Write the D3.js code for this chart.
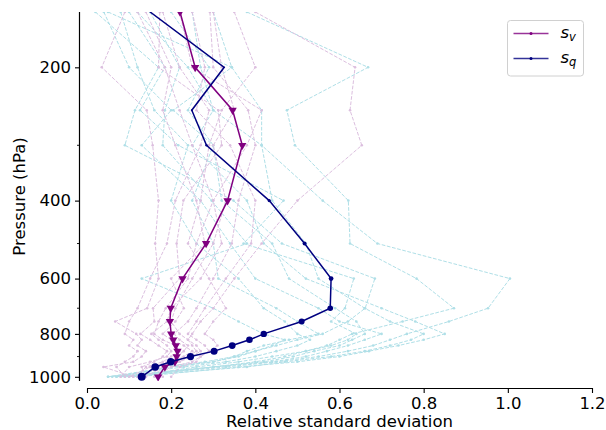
<!DOCTYPE html>
<html>
<head>
<meta charset="utf-8">
<script src="https://cdn.jsdelivr.net/npm/d3@7"></script>
<style>
  html, body { margin: 0; padding: 0; background: #fff; }
  svg { display: block; font-family: "DejaVu Sans", sans-serif; }
</style>
</head>
<body>
<svg id="chart" width="606" height="430"></svg>
<script>
// ---- data ----
const levels = [150, 200, 250, 300, 400, 500, 600, 700, 750, 800, 825, 850, 875, 900, 925, 950, 1000];
const sv = [0.221, 0.257, 0.346, 0.369, 0.334, 0.283, 0.227, 0.199, 0.197, 0.200, 0.205, 0.211, 0.215, 0.213, 0.209, 0.185, 0.169];
const sq = [0.150, 0.326, 0.249, 0.284, 0.433, 0.517, 0.580, 0.578, 0.510, 0.420, 0.386, 0.345, 0.302, 0.246, 0.199, 0.162, 0.130];

const sqMembers = [
  [0.38, 0.668, 0.475, 0.494, 0.621, 0.625, 0.783, 0.872, 0.75, 0.63, 0.60, 0.57, 0.52, 0.47, 0.40, 0.30, 0.06],
  [0.30, 0.344, 0.415, 0.415, 0.56, 0.69, 1.005, 0.953, 0.86, 0.76, 0.72, 0.68, 0.62, 0.55, 0.45, 0.33, 0.08],
  [0.02, 0.17, 0.114, 0.09, 0.348, 0.463, 0.684, 0.661, 0.62, 0.56, 0.50, 0.45, 0.40, 0.36, 0.30, 0.20, 0.05],
  [0.10, 0.185, 0.126, 0.217, 0.467, 0.372, 0.634, 0.613, 0.58, 0.64, 0.62, 0.58, 0.52, 0.44, 0.36, 0.26, 0.10],
  [0.15, 0.22, 0.185, 0.18, 0.296, 0.38, 0.13, 0.30, 0.36, 0.42, 0.47, 0.44, 0.40, 0.35, 0.28, 0.17, 0.12],
  [0.05, 0.344, 0.205, 0.30, 0.25, 0.30, 0.312, 0.45, 0.50, 0.55, 0.48, 0.42, 0.38, 0.35, 0.30, 0.20, 0.07],
  [0.25, 0.27, 0.30, 0.415, 0.44, 0.52, 0.55, 0.66, 0.72, 0.80, 0.77, 0.72, 0.66, 0.58, 0.47, 0.38, 0.09],
  [0.08, 0.12, 0.16, 0.24, 0.20, 0.26, 0.36, 0.42, 0.47, 0.50, 0.53, 0.50, 0.45, 0.40, 0.33, 0.23, 0.05],
  [0.20, 0.29, 0.24, 0.30, 0.32, 0.44, 0.48, 0.59, 0.64, 0.66, 0.63, 0.60, 0.54, 0.49, 0.42, 0.30, 0.11],
  [0.12, 0.24, 0.30, 0.25, 0.38, 0.42, 0.52, 0.70, 0.78, 0.85, 0.80, 0.74, 0.67, 0.60, 0.50, 0.36, 0.12],
  [0.04, 0.10, 0.20, 0.13, 0.27, 0.34, 0.40, 0.55, 0.60, 0.70, 0.66, 0.62, 0.57, 0.52, 0.44, 0.30, 0.07]
];
const svMembers = [
  [0.40, 0.637, 0.625, 0.653, 0.50, 0.415, 0.35, 0.30, 0.27, 0.25, 0.24, 0.25, 0.26, 0.24, 0.22, 0.18, 0.14],
  [0.09, 0.035, 0.142, 0.156, 0.17, 0.162, 0.17, 0.143, 0.067, 0.117, 0.13, 0.12, 0.14, 0.13, 0.11, 0.039, 0.11],
  [0.173, 0.17, 0.312, 0.32, 0.229, 0.213, 0.22, 0.157, 0.16, 0.127, 0.15, 0.17, 0.19, 0.18, 0.16, 0.13, 0.14],
  [0.292, 0.30, 0.383, 0.40, 0.36, 0.344, 0.30, 0.26, 0.24, 0.207, 0.22, 0.24, 0.23, 0.213, 0.20, 0.16, 0.18],
  [0.22, 0.25, 0.415, 0.38, 0.30, 0.32, 0.27, 0.20, 0.19, 0.153, 0.17, 0.19, 0.20, 0.19, 0.15, 0.10, 0.08],
  [0.12, 0.185, 0.22, 0.25, 0.30, 0.26, 0.24, 0.187, 0.17, 0.16, 0.18, 0.21, 0.22, 0.20, 0.18, 0.14, 0.12],
  [0.25, 0.28, 0.26, 0.34, 0.40, 0.39, 0.33, 0.28, 0.26, 0.24, 0.26, 0.28, 0.29, 0.27, 0.25, 0.20, 0.16],
  [0.14, 0.20, 0.18, 0.21, 0.26, 0.28, 0.20, 0.23, 0.21, 0.18, 0.20, 0.23, 0.25, 0.23, 0.19, 0.15, 0.10],
  [0.30, 0.32, 0.35, 0.30, 0.33, 0.30, 0.25, 0.21, 0.20, 0.22, 0.24, 0.26, 0.27, 0.25, 0.22, 0.17, 0.13],
  [0.18, 0.22, 0.29, 0.27, 0.21, 0.19, 0.15, 0.12, 0.10, 0.09, 0.11, 0.10, 0.12, 0.11, 0.09, 0.07, 0.09],
  [0.35, 0.40, 0.32, 0.29, 0.27, 0.24, 0.29, 0.33, 0.30, 0.28, 0.30, 0.31, 0.29, 0.27, 0.26, 0.22, 0.20]
];

const xTicks = [0.0, 0.2, 0.4, 0.6, 0.8, 1.0, 1.2];
const yTicks = [200, 400, 600, 800, 1000];
const yMinorTicks = [300, 500, 700, 900];
const seriesNames = ["v", "q"];

// ---- layout ----
const plot = { left: 87, right: 592, top: 12, bottom: 381 };
const svg = d3.select("#chart");

const x = d3.scaleLinear().domain([0, 1.2]).range([plot.left, plot.right]);
const y = d3.scaleLog().domain([1022, 150]).range([plot.bottom, plot.top]);

svg.append("defs").append("clipPath").attr("id", "clip")
  .append("rect")
  .attr("x", plot.left).attr("y", plot.top)
  .attr("width", plot.right - plot.left).attr("height", plot.bottom - plot.top);

const g = svg.append("g").attr("clip-path", "url(#clip)");

const line = d3.line().x(d => x(d[0])).y(d => y(d[1]));

function drawMember(vals, color) {
  const pts = vals.map((v, i) => [v, levels[i]]);
  g.append("path").datum(pts)
    .attr("d", line)
    .attr("fill", "none")
    .attr("stroke", color)
    .attr("stroke-width", 1)
    .attr("stroke-dasharray", "3.7,1.6");
  g.append("g").selectAll("circle").data(pts).join("circle")
    .attr("cx", d => x(d[0])).attr("cy", d => y(d[1]))
    .attr("r", 1.3).attr("fill", color);
}

const blueBg = "#afdfe7";
const purpleBg = "#dcbfdf";
sqMembers.forEach(v => drawMember(v, blueBg));
svMembers.forEach(v => drawMember(v, purpleBg));

// main s_v
const svPts = sv.map((v, i) => [v, levels[i]]);
g.append("path").datum(svPts).attr("d", line)
  .attr("fill", "none").attr("stroke", "#800080").attr("stroke-width", 1.5);
const tri = d3.symbol().type(d3.symbolTriangle).size(30);
g.append("g").selectAll("path").data(svPts).join("path")
  .attr("d", tri)
  .attr("transform", d => `translate(${x(d[0])},${y(d[1])}) rotate(180)`)
  .attr("fill", "#800080");

// main s_q
const sqPts = sq.map((v, i) => [v, levels[i]]);
g.append("path").datum(sqPts).attr("d", line)
  .attr("fill", "none").attr("stroke", "#000080").attr("stroke-width", 1.5);
g.append("g").selectAll("circle").data(sqPts).join("circle")
  .attr("cx", d => x(d[0])).attr("cy", d => y(d[1]))
  .attr("r", d => 4 * d[1] / 1000)
  .attr("fill", "#000080");

// ---- axes ----
const xAxis = d3.axisBottom(x).tickValues(xTicks).tickFormat(d3.format(".1f")).tickSize(5).tickPadding(4);
const xa = svg.append("g").attr("transform", `translate(0,${plot.bottom + 7})`).call(xAxis);
xa.select(".domain").attr("d", `M${plot.left},0.5H${plot.right}`).attr("stroke", "#000").attr("stroke-width", 1.2);
xa.selectAll("text").attr("font-size", 16.5).attr("fill", "#000").attr("font-family", "DejaVu Sans");
xa.selectAll(".tick line").attr("stroke", "#000").attr("stroke-width", 1.1);

const yAxis = d3.axisLeft(y).tickValues(yTicks).tickFormat(d3.format("d")).tickSize(5).tickPadding(4);
const ya = svg.append("g").attr("transform", `translate(${plot.left - 7},0)`).call(yAxis);
ya.select(".domain").attr("d", `M-0.5,${plot.top}V${plot.bottom}`).attr("stroke", "#000").attr("stroke-width", 1.2);
ya.selectAll("text").attr("font-size", 16.5).attr("fill", "#000").attr("font-family", "DejaVu Sans");
ya.selectAll(".tick line").attr("stroke", "#000").attr("stroke-width", 1.1);
ya.append("g").selectAll("line").data(yMinorTicks).join("line")
  .attr("x1", -3).attr("x2", 0)
  .attr("y1", d => y(d)).attr("y2", d => y(d))
  .attr("stroke", "#000").attr("stroke-width", 0.9);

svg.append("text")
  .attr("x", (plot.left + plot.right) / 2).attr("y", 427)
  .attr("text-anchor", "middle").attr("font-size", 16.5)
  .text("Relative standard deviation");

svg.append("text")
  .attr("transform", `translate(24.5,${(plot.top + plot.bottom) / 2}) rotate(-90)`)
  .attr("text-anchor", "middle").attr("font-size", 16.5)
  .text("Pressure (hPa)");

// ---- legend ----
const lg = svg.append("g").attr("transform", "translate(507.5,20.5)");
lg.append("rect").attr("width", 76).attr("height", 55.5).attr("rx", 3)
  .attr("fill", "#fff").attr("fill-opacity", 0.8)
  .attr("stroke", "#d0d0d0").attr("stroke-width", 1);
const legColors = ["#800080", "#000080"];
seriesNames.forEach((s, i) => {
  const yy = 13 + i * 25;
  lg.append("line").attr("x1", 6).attr("x2", 41).attr("y1", yy).attr("y2", yy)
    .attr("stroke", legColors[i]).attr("stroke-width", 1.5).attr("stroke-opacity", 0.8);
  lg.append("circle").attr("cx", 23.5).attr("cy", yy).attr("r", 1.5).attr("fill", legColors[i]);
  const t = lg.append("text").attr("x", 53).attr("y", yy + 4).attr("font-size", 16.5);
  t.append("tspan").attr("font-style", "italic").text("s");
  t.append("tspan").attr("font-style", "italic").attr("font-size", 11.5).attr("dy", 3).text(s);
});
</script>
</body>
</html>
